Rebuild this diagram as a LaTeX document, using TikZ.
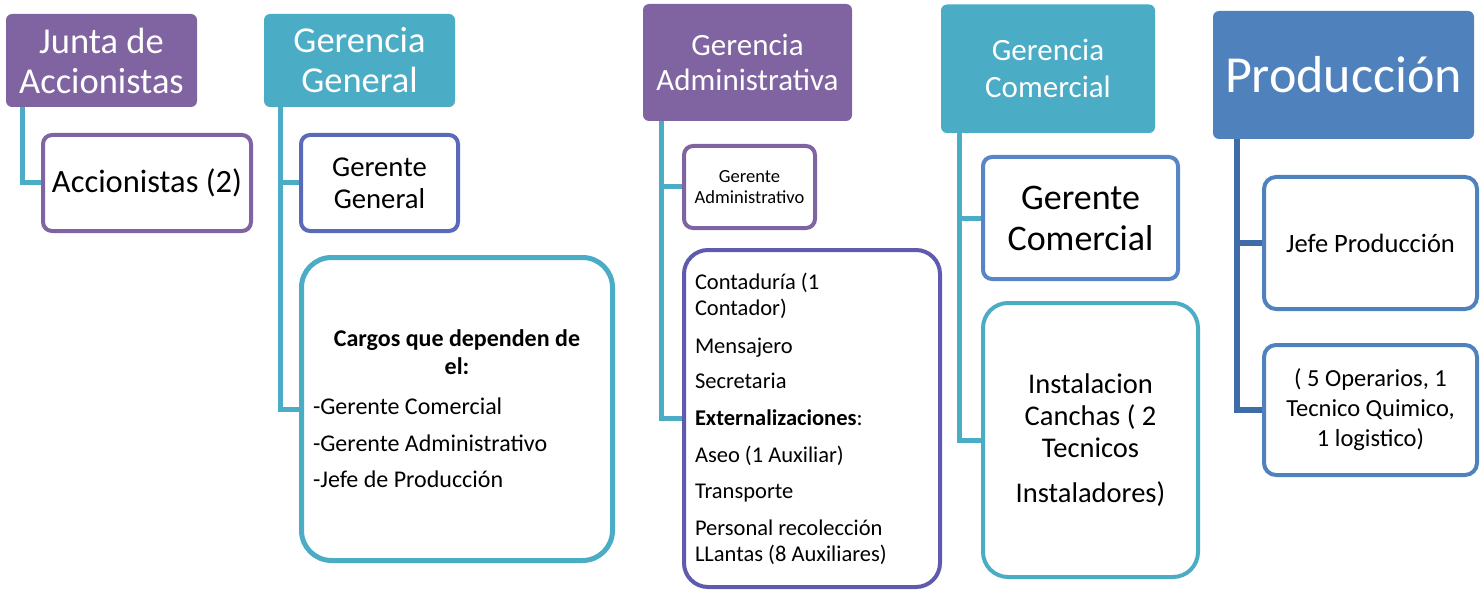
\documentclass[tikz,border=0pt]{standalone}
\usepackage{fontspec}
\setmainfont{Carlito}
\usepackage{xcolor}
\definecolor{purpleC}{HTML}{8064A2}
\definecolor{tealC}{HTML}{4BACC6}
\definecolor{blueC}{HTML}{4F81BD}
\definecolor{indigoA}{HTML}{5A6AB8}
\definecolor{indigoB}{HTML}{5E5BAF}
\definecolor{skyC}{HTML}{5885C6}
\definecolor{navyC}{HTML}{3F6CA6}
\newcommand{\fsz}[2]{\fontsize{#1}{#2}\selectfont}

\begin{document}
\begin{tikzpicture}[x=1pt,y=-1pt,
			head/.style={rectangle,rounded corners=6pt,text=white,align=center,inner sep=2pt},
			unit/.style={rectangle,rounded corners=9pt,draw,line width=4pt,fill=white,align=center,inner sep=2pt},
			link/.style={line width=5pt,draw=tealC},
			]
			
			%page
			\useasboundingbox (0,0) rectangle (1484,591);
			
			%column 1
			\node[head,fill=purpleC,minimum width=191pt,minimum height=93pt,font=\fsz{36.5}{40}] (junta) at (101.5,60.5) {Junta de\\Accionistas};
			\node[unit,draw=purpleC,minimum width=208pt,minimum height=96pt,font=\fsz{32.5}{38}] (acc) at (147,183) {Accionistas (2)};
			
			%column 2
			\node[head,fill=tealC,minimum width=191pt,minimum height=93pt,font=\fsz{36.5}{40}] (gg) at (359.5,60.5) {Gerencia\\General};
			\node[unit,draw=indigoA,minimum width=157pt,minimum height=96pt,font=\fsz{28.7}{32}] (gge) at (379.5,183) {Gerente\\General};
			\node[unit,draw=tealC,line width=5pt,rounded corners=30pt,minimum width=311pt,minimum height=303pt,
				text width=288pt,inner xsep=11.5pt,align=flush left,font=\fsz{24}{28}] (cargos) at (457,409)
				{\makebox[\linewidth]{\bfseries Cargos que dependen de}\par
				\makebox[\linewidth]{\bfseries el:}\par\vspace{12pt}
				-Gerente Comercial\par\vspace{9pt}
				-Gerente Administrativo\par\vspace{8pt}
				-Jefe de Producción};
			
			%column 3
			\node[head,fill=purpleC,minimum width=209pt,minimum height=117pt,font=\fsz{31}{35}] (ga) at (747.5,62.5) {Gerencia\\Administrativa};
			\node[unit,draw=purpleC,minimum width=131pt,minimum height=82pt,font=\fsz{18.5}{21}] (gad) at (749.5,187) {Gerente\\Administrativo};
			\node[unit,draw=indigoB,rounded corners=24pt,minimum width=256pt,minimum height=337pt,
				text width=234pt,inner xsep=11pt,align=flush left,font=\fsz{22.5}{26}] (adm) at (812,418.5)
				{Contaduría (1\newline Contador)\par\vspace{12pt}
				Mensajero\par\vspace{9pt}
				Secretaria\par\vspace{11pt}
				\textbf{Externalizaciones}:\par\vspace{11pt}
				Aseo (1 Auxiliar)\par\vspace{10pt}
				Transporte\par\vspace{11pt}
				Personal recolección\newline LLantas (8 Auxiliares)};
			
			%column 4
			\node[head,fill=tealC,minimum width=214pt,minimum height=128.5pt,font=\fsz{31}{37}] (gc) at (1048,68.75) {Gerencia\\Comercial};
			\node[unit,draw=skyC,minimum width=195pt,minimum height=122pt,font=\fsz{36}{41}] (gco) at (1080.5,218) {Gerente\\Comercial};
			\node[unit,draw=tealC,rounded corners=25pt,minimum width=215pt,minimum height=274pt,font=\fsz{28.5}{32}] (inst) at (1090.5,440)
				{Instalacion\\Canchas ( 2\\Tecnicos\\[13pt]Instaladores)};
			
			%column 5
			\node[head,fill=blueC,minimum width=261pt,minimum height=128pt,font=\fsz{52}{60}] (prod) at (1343.5,75) {Producción};
			\node[unit,draw=blueC,rounded corners=12pt,minimum width=213pt,minimum height=132pt,font=\fsz{26.5}{30}] (jefe) at (1370.5,243) {Jefe Producción};
			\node[unit,draw=blueC,rounded corners=12pt,minimum width=213pt,minimum height=130pt,font=\fsz{24.5}{30}] (oper) at (1370.5,410)
				{( 5 Operarios, 1\\Tecnico Quimico,\\1 logistico)};
			
			%connectors
			\draw[link] ([xshift=17pt]junta.south west) |- (acc.west);
			\draw[link] ([xshift=17pt]gg.south west) |- (gge.west);
			\draw[link] ([xshift=17pt]gg.south west) |- (cargos.west);
			\draw[link] ([xshift=19pt]ga.south west) |- (gad.west);
			\draw[link] ([xshift=19pt]ga.south west) |- (adm.west);
			\draw[link] ([xshift=19pt]gc.south west) |- (gco.west);
			\draw[link] ([xshift=19pt]gc.south west) |- (inst.west);
			\draw[link,draw=navyC,line width=6pt] ([xshift=24pt]prod.south west) |- (jefe.west);
			\draw[link,draw=navyC,line width=6pt] ([xshift=24pt]prod.south west) |- (oper.west);
			
\end{tikzpicture}
\end{document}
